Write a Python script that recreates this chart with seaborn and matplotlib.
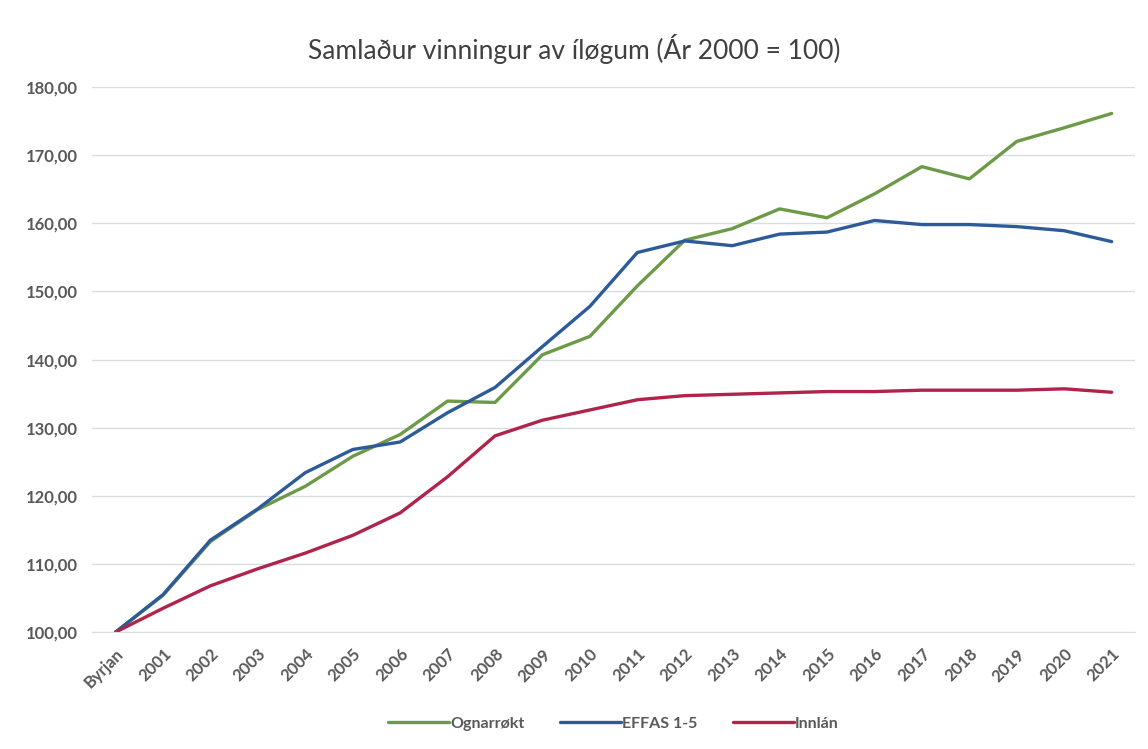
import seaborn as sns
from matplotlib import pyplot as plt
import pandas as pd

# ár: Byrjan = 2000
years = ["Byrjan"] + [str(y) for y in range(2001, 2022)]

ognarrokt = [100.0, 105.4, 113.3, 118.0, 121.4, 125.8, 129.0, 133.9, 133.7, 140.7,
             143.4, 150.8, 157.5, 159.2, 162.1, 160.8, 164.3, 168.3, 166.5, 172.0,
             174.0, 176.1]
effas = [100.0, 105.5, 113.5, 118.1, 123.4, 126.8, 127.9, 132.2, 135.9, 141.9,
         147.8, 155.7, 157.4, 156.7, 158.4, 158.7, 160.4, 159.8, 159.8, 159.5,
         158.9, 157.3]
innlan = [100.0, 103.5, 106.8, 109.3, 111.6, 114.2, 117.5, 122.8, 128.8, 131.1,
          132.6, 134.1, 134.7, 134.9, 135.1, 135.3, 135.3, 135.5, 135.5, 135.5,
          135.7, 135.2]

series = ["Ognarrøkt", "EFFAS 1-5", "Innlán"]
colors = ["#6c9a48", "#2d5a98", "#b0234a"]

df = pd.DataFrame({"Ár": years * 3,
                   "Virði": ognarrokt + effas + innlan,
                   "Røð": [s for s in series for _ in years]})

sns.set_style("white")
plt.rcParams["font.family"] = ["Lato", "DejaVu Sans"]
txt = "#595959"

fig = plt.figure(figsize=(11.48, 7.49), dpi=100)
ax = fig.add_axes([0.080, 0.156, 0.909, 0.728])

sns.lineplot(data=df, x="Ár", y="Virði", hue="Røð", palette=colors,
             linewidth=2.4, sort=False, ax=ax)

ax.set_ylim(100, 180)
ax.set_xlim(-0.5, 21.5)
ax.set_yticks(range(100, 181, 10))
ax.set_yticklabels([f"{v},00" for v in range(100, 181, 10)],
                   fontsize=12, color=txt, fontweight="bold")
ax.set_xticks(range(len(years)))
ax.set_xticklabels(years, rotation=45, ha="right", rotation_mode="anchor",
                   fontsize=12, color=txt, fontweight="bold")
ax.tick_params(axis="both", length=0, pad=10)
ax.yaxis.grid(True, color="#d9dde3", linewidth=1)
ax.set_axisbelow(True)
for side in ["top", "right", "left"]:
    ax.spines[side].set_visible(False)
ax.spines["bottom"].set_color("#d9dde3")
ax.set_xlabel("")
ax.set_ylabel("")

fig.suptitle("Samlaður vinningur av íløgum (Ár 2000 = 100)", y=0.955,
             fontsize=19, color="#404040")

handles, labels = ax.get_legend_handles_labels()
ax.legend(handles, labels, loc="center", bbox_to_anchor=(0.5, -0.168),
          ncol=3, frameon=False, handlelength=3.8, handletextpad=0.1,
          columnspacing=2.2, prop={"size": 11.5, "weight": "bold"},
          labelcolor=txt)

plt.savefig("out.png", dpi=100)
